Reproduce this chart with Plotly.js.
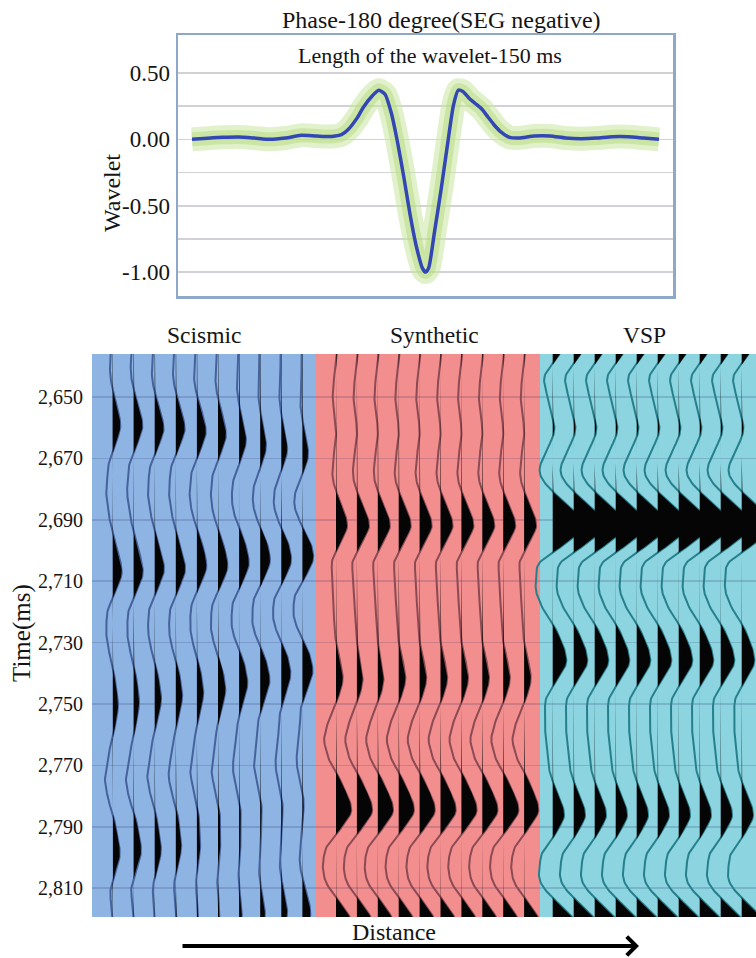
<!DOCTYPE html>
<html><head><meta charset="utf-8">
<script src="https://cdn.plot.ly/plotly-3.0.1.min.js"></script>
<style>html,body{margin:0;padding:0;background:#fff}#chart{width:756px;height:958px}</style>
</head><body><div id="chart"></div>
<script>
// ---------------- DATA ----------------
// Wavelet (top chart), time in ms relative to centre, amplitude
const waveletTime = [-75,-70,-65,-60,-55,-50,-45,-40,-35,-30,-27,-25,-22,-20,-17,-15,-13,-11,-9,-7,-5,-3,-1,0,1,3,5,7,9,10.5,12,14,16,18,20,22,24,27,30,35,40,45,50,55,60,65,70,75];
const waveletValue = [0,0.008,0.015,0.018,0.01,0,0.01,0.03,0.025,0.022,0.035,0.07,0.16,0.24,0.33,0.37,0.34,0.2,-0.02,-0.28,-0.56,-0.8,-0.97,-1.0,-0.97,-0.68,-0.38,-0.05,0.26,0.37,0.36,0.31,0.27,0.23,0.17,0.11,0.06,0.015,0.01,0.025,0.025,0.01,0.005,0.01,0.02,0.02,0.01,0];
const waveletTickVals = [0.5,0.25,0,-0.25,-0.5,-0.75,-1];
const waveletTickText = ['0.50','','0.00','','-0.50','','-1.00'];

// Lower panels
const panelNames = ['Scismic','Synthetic','VSP'];
const timeTicks = [2650,2670,2690,2710,2730,2750,2770,2790,2810];
const timeTickLabels = ['2,650','2,670','2,690','2,710','2,730','2,750','2,770','2,790','2,810'];

// Reflection events per panel: time (ms, single or per trace) and amplitude per trace (10 traces)
const scismicEventTimes = [
  [2659,2659,2660,2660,2661,2662,2664,2666,2667,2669],
  [2680,2680,2680,2680,2681,2681,2682,2683,2684,2685],
  [2707,2707,2706,2706,2705,2705,2704,2703,2703,2702],
  [2726,2726,2725,2725,2724,2724,2723,2722,2721,2720],
  [2750,2749,2748,2747,2746,2745,2743,2742,2740,2739],
  [2774,2774,2773,2773,2772,2772,2771,2770,2770,2769],
  [2799,2798,2798,2797,2797,2796,2796,2796,2796,2796],
  [2822,2822,2821,2821,2820,2820,2819,2819,2818,2818]
];
const scismicEventAmps = [
  [7,8,8,8,8,7,6,5,5,5],
  [-3,-3,-3,-3,-3,-3,-3,-3,-3,-3],
  [8,8,8,8,8,8,8,8,8,9],
  [-3,-3,-3,-3,-3,-3,-3,-3,-3,-3],
  [4,4,5,5,5,6,7,8,8,9],
  [-5,-5,-5,-5,-5,-5,-5,-5,-5,-5],
  [7,7,6,5,3,2,1.5,1,0.5,0],
  [2,2,2,2,2,2,3,5,6,8]
];
const syntheticEventTimes = [2650, 2691.7, 2741, 2761, 2784.5, 2802, 2824];
const syntheticEventAmps = [
  [-3,-3,-3,-3,-3,-3,-3,-3,-3,-3],
  [11,12,12,12,12,12,12,12,12,12],
  [5,4,4,5,5,5,5,5,5,5],
  [-7,-7,-7,-7,-7,-7,-7,-7,-7,-7],
  [13,13,13,13,13,13,13,13,13,12],
  [-4,-4,-4,-4,-4,-4,-4,-4,-4,-4],
  [18,18,18,18,18,18,18,18,18,18]
];
const vspEventTimes = [2631, 2661, 2691.7, 2712, 2736, 2756, 2786, 2824];
const vspEventAmps = [
  [16,16,16,16,16,16,16,16,16,16],
  [5,5,5,5,5,5,5,5,5,5],
  [30,30,30,30,30,30,30,30,30,30],
  [-5,-5,-5,-5,-5,-5,-5,-5,-5,-5],
  [13,13,13,13,13,13,13,13,13,12],
  [-3,-3,-3,-3,-3,-3,-3,-3,-3,-3],
  [12,12,12,12,12,12,12,12,12,12],
  [28,28,28,28,28,28,28,28,28,28]
];
// apparent wavelet stretch of the displayed traces in each panel
const panelWaveletStretch = [1.25, 1.2, 1.25];

// ---------------- LAYOUT CONSTANTS ----------------
const W = 756, H = 958;
const panelWidth = 224;
const traceOffset = [20.5, 20, 12.7];
const traceSpacing = [21.1, 20.9, 21.0];
const panelBg = ['#8db4e2','#f28e8e','#8bd4e0'];
const panelLine = ['rgb(70,98,156)','rgb(140,74,84)','rgb(38,128,140)'];
const serif = 'Liberation Serif';

// smooth (cubic Hermite / Catmull-Rom) interpolation of the wavelet
function wav(dt){
  const T = waveletTime, V = waveletValue, n = T.length;
  if (dt <= T[0] || dt >= T[n-1]) return 0;
  let k = 0;
  while (k < n-2 && dt > T[k+1]) k++;
  const t1=T[k], t2=T[k+1], h=t2-t1;
  const p1=V[k], p2=V[k+1];
  const p0 = k>0 ? V[k-1] : p1, t0 = k>0 ? T[k-1] : t1-h;
  const p3 = k+2<n ? V[k+2] : p2, t3 = k+2<n ? T[k+2] : t2+h;
  const m1 = (p2-p0)/(t2-t0)*h, m2 = (p3-p1)/(t3-t1)*h;
  const s = (dt-t1)/h, s2=s*s, s3=s2*s;
  return (2*s3-3*s2+1)*p1 + (s3-2*s2+s)*m1 + (-2*s3+3*s2)*p2 + (s3-s2)*m2;
}

const panels = [
  {times: scismicEventTimes, amps: scismicEventAmps},
  {times: syntheticEventTimes, amps: syntheticEventAmps},
  {times: vspEventTimes, amps: vspEventAmps}
];

const tSamples = [];
for (let t=2620; t<=2826; t+=0.5) tSamples.push(t);

const traces = [];
// top chart: glow + line
traces.push({x: waveletTime, y: waveletValue, xaxis:'x', yaxis:'y', mode:'lines',
  line:{color:'rgba(200,230,160,0.55)', width:24, shape:'spline', smoothing:0.6}, hoverinfo:'skip'});
traces.push({x: waveletTime, y: waveletValue, xaxis:'x', yaxis:'y', mode:'lines',
  line:{color:'rgba(178,216,118,0.45)', width:14, shape:'spline', smoothing:0.6}, hoverinfo:'skip'});
traces.push({x: waveletTime, y: waveletValue, xaxis:'x', yaxis:'y', mode:'lines',
  line:{color:'#3246b4', width:3.5, shape:'spline', smoothing:0.6}, hoverinfo:'skip'});

const lineTraces = [], fillTraces = [];
panels.forEach((p, pi) => {
  const st = panelWaveletStretch[pi];
  for (let i=0;i<10;i++){
    const base = pi*panelWidth + traceOffset[pi] + i*traceSpacing[pi];
    const amp = tSamples.map(t => {
      let s = 0;
      p.times.forEach((tm, e) => {
        const t0 = Array.isArray(tm) ? tm[i] : tm;
        s += -p.amps[e][i] * wav((t - t0)/st);
      });
      return s;
    });
    lineTraces.push({x: amp.map(a=>base+a), y: tSamples, xaxis:'x2', yaxis:'y2', mode:'lines',
      line:{color: panelLine[pi], width:2}, hoverinfo:'skip'});
    const fx = amp.map(a=>base+Math.max(a,0)).concat(tSamples.map(()=>base).reverse());
    const fy = tSamples.concat(tSamples.slice().reverse());
    fillTraces.push({x: fx, y: fy, xaxis:'x2', yaxis:'y2', mode:'lines', fill:'toself',
      fillcolor:'#050505', line:{width:0, color:'rgba(0,0,0,0)'}, hoverinfo:'skip'});
  }
});
traces.push(...lineTraces, ...fillTraces);

const px = v => v / W, py = v => 1 - v / H;

const shapes = panelBg.map((c, pi) => ({type:'rect', xref:'x2', yref:'y2 domain',
  x0: pi*panelWidth, x1: (pi+1)*panelWidth, y0: 0, y1: 1, fillcolor: c, line:{width:0}, layer:'below'}));

const ann = (text, x, y, size, extra) => Object.assign({text, x: px(x), y: py(y), xref:'paper', yref:'paper',
  showarrow:false, xanchor:'center', yanchor:'middle', font:{family: serif, size, color:'#141414'}}, extra||{});

const annotations = [
  ann('Phase-180 degree(SEG negative)', 441, 20, 24),
  ann('Length of the wavelet-150 ms', 430, 56, 22),
  ann('Wavelet', 112, 193, 24, {textangle:-90}),
  ann(panelNames[0], 203.5, 335, 23.5),
  ann(panelNames[1], 434, 335, 23.5),
  ann(panelNames[2], 644.5, 335, 23.5),
  ann('Time(ms)', 22, 633, 25, {textangle:-90}),
  ann('Distance', 394, 932, 24),
  {text:'', x: px(639), y: py(946), xref:'paper', yref:'paper', showarrow:true,
   ax:-458, ay:0, arrowhead:4, arrowsize:0.9, arrowwidth:4, arrowcolor:'#000'}
];

const layout = {
  width: W, height: H, margin:{l:0,r:0,t:0,b:0}, showlegend:false,
  font:{family: serif, color:'#141414'},
  paper_bgcolor:'#fff', plot_bgcolor:'rgba(0,0,0,0)', hovermode:false,
  xaxis:{domain:[px(178), px(673)], range:[-79.5,79.5], showgrid:false, zeroline:false,
    showticklabels:false, ticks:'', showline:true, mirror:true, linecolor:'#8ea8ca', linewidth:2.5, fixedrange:true},
  yaxis:{domain:[py(296), py(35)], range:[-1.18,0.786], tickmode:'array', tickvals: waveletTickVals,
    ticktext: waveletTickText, showgrid:true, gridcolor:'#d2d2d6', gridwidth:1.6, zeroline:false,
    showline:true, mirror:true, linecolor:'#8ea8ca', linewidth:2.5, ticks:'', ticklabelstandoff:1,
    tickfont:{family: serif, size:23, color:'#141414'}, fixedrange:true},
  xaxis2:{domain:[px(92), 1], range:[0,664], showgrid:false, zeroline:false, showticklabels:false,
    ticks:'', showline:false, fixedrange:true, anchor:'y2'},
  yaxis2:{domain:[py(917), py(354)], range:[2819.4, 2636], tickmode:'array', tickvals: timeTicks,
    ticktext: timeTickLabels, showgrid:true, gridcolor:'rgba(30,30,90,0.17)', gridwidth:1.6,
    zeroline:false, showline:false, ticks:'', ticklabelstandoff:8, anchor:'x2',
    tickfont:{family: serif, size:20, color:'#141414'}, fixedrange:true},
  shapes, annotations
};

Plotly.newPlot('chart', traces, layout, {staticPlot:true, displayModeBar:false});
</script></body></html>
